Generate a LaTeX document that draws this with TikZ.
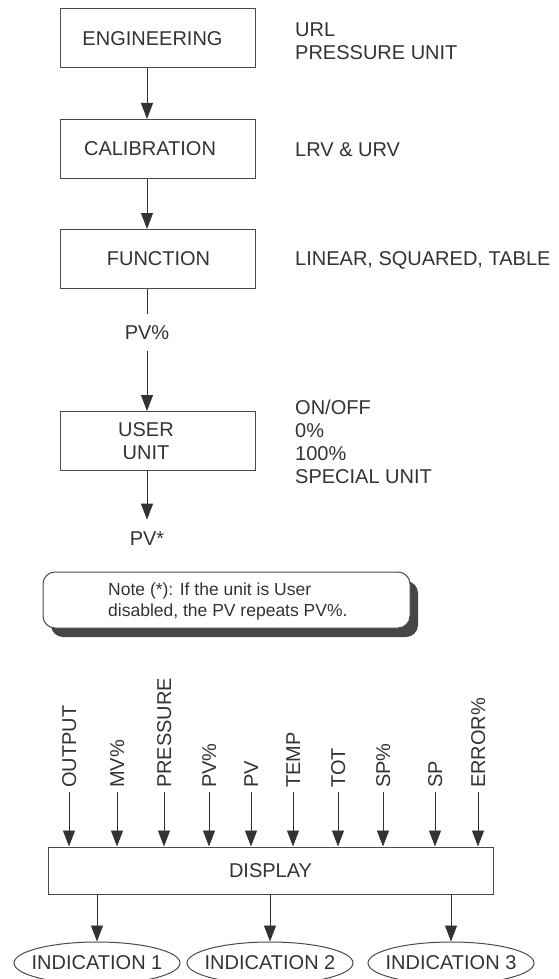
\documentclass[tikz,border=0pt]{standalone}
\usepackage{fontspec}
\setmainfont{Liberation Sans}
\usetikzlibrary{arrows.meta,shapes.geometric,shadows}
\definecolor{ink}{HTML}{333333}
\definecolor{edge}{HTML}{4A4A4A}
\definecolor{shade}{HTML}{464646}

\begin{document}
\begin{tikzpicture}[x=1pt,y=1pt,
  font=\fontsize{20pt}{23pt}\selectfont, text=ink,
  stepbox/.style={draw=edge, line width=1pt, minimum width=195pt, minimum height=59pt,
    inner sep=0pt},
  caption/.style={label={[align=center, xshift=#1]center:}},
  side/.style={anchor=west, align=left, inner sep=0pt},
  arr/.style={draw=ink, line width=0.9pt, -{Triangle[length=16pt,width=12pt]}},
  link/.style={draw=ink, line width=0.9pt},
  flag/.style={inner xsep=0pt, inner ysep=11pt, text height=14.3pt, text depth=0pt},
  vlabel/.style={rotate=90, anchor=west, inner sep=0pt, text height=14.3pt, text depth=0pt},
  oval/.style={ellipse, draw=edge, line width=1pt, minimum width=166pt, minimum height=42pt,
    inner sep=0pt},
  notebox/.style={draw=edge, line width=1pt, fill=white, rounded corners=12pt,
    minimum width=367pt, minimum height=56pt, inner sep=0pt,
    drop shadow={shadow xshift=8pt, shadow yshift=-9pt, fill=shade, opacity=1}},
  notetext/.style={anchor=west, align=left, inner sep=0pt,
    font=\fontsize{17.5pt}{21pt}\selectfont}
]
\useasboundingbox (0,0) rectangle (558,-979);

% configuration chain: boxes sit right of the signal line, captions set by hand
\node[stepbox, label={[xshift=-5pt]center:ENGINEERING}]  (eng)  at (157.5,-38.5) {};
\node[stepbox, label={[xshift=-7.5pt]center:CALIBRATION}] (cal)  at (157.5,-149)  {};
\node[stepbox, label={[xshift=1pt]center:FUNCTION}]       (func) at (157.5,-259)  {};
\node[flag]    (pvp)  at (147,-332.5) {PV\%};
\node[stepbox, label={[xshift=-11.5pt, align=center]center:USER\\UNIT}] (user) at (157.5,-441) {};
\node[flag]    (pvs)  at (147,-538)  {PV*};

\coordinate (sig) at (147,0);
\draw[arr]  (eng.south -| sig)  -- (cal.north -| sig);
\draw[arr]  (cal.south -| sig)  -- (func.north -| sig);
\draw[link] (func.south -| sig) -- (pvp.north);
\draw[arr]  (pvp.south)  -- (user.north -| sig);
\draw[arr]  (user.south -| sig) -- (pvs.north);

% parameters of each step
\node[side] (engp)  at (295,-41)  {URL\\PRESSURE UNIT};
\node[side] (calp)  at (295,-150) {LRV \& URV};
\node[side] (funcp) at (295,-260) {LINEAR, SQUARED, TABLE};
\node[side] (userp) at (295,-441.5) {ON/OFF\\0\%\\100\%\\SPECIAL UNIT};

% note
\node[notebox] (note) at (226.5,-600) {};
\node[notetext] (notetxt) at (108,-601.5) {Note (*): If the unit is User\\disabled, the PV repeats PV\%.};

% display selection
\node[draw=edge, line width=1pt, minimum width=445pt, minimum height=47pt, inner sep=0pt]
  (disp) at (270.5,-870.5) {DISPLAY};

\foreach \nm/\x/\t in {vOut/69/OUTPUT, vMv/117/MV\%, vPress/164/PRESSURE, vPvp/209/PV\%,
    vPv/251/PV, vTemp/293/TEMP, vTot/338/TOT, vSpp/383/SP\%, vSp/435/SP, vErr/478/ERROR\%}{
  \node[vlabel] (\nm) at (\x,-788) {\t};
  \draw[arr] ([yshift=-4pt]\nm.west) -- (\nm.west |- disp.north);
}

\node[oval, label={center:INDICATION 1}] (ind1) at (97,-963)  {};
\node[oval, label={center:INDICATION 2}] (ind2) at (270,-963) {};
\node[oval, label={center:INDICATION 3}] (ind3) at (451,-963) {};

\draw[arr] (disp.south -| ind1.north) -- (ind1.north);
\draw[arr] (disp.south -| ind2.north) -- (ind2.north);
\draw[arr] (disp.south -| ind3.north) -- (ind3.north);
\end{tikzpicture}
\end{document}
